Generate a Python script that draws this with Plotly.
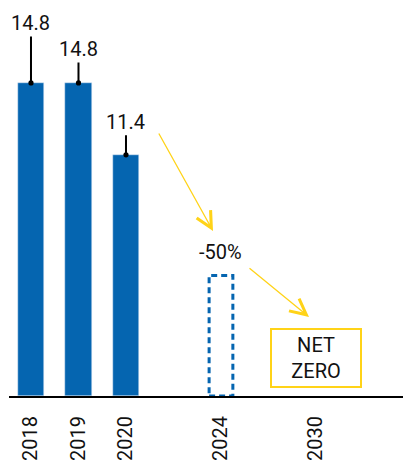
import plotly.graph_objects as go

# ---- data ----
years = ['2018', '2019', '2020']
emissions = [14.8, 14.8, 11.4]
target_year = '2024'
target_value = 5.7
netzero_year = '2030'
target_label = '-50%'
netzero_label = 'NET<br>ZERO'
categories = ['2018', '2019', '2020', ' ', '2024', '  ', '2030']

BLUE = '#0565B0'
YELLOW = '#FFD318'
FONT = 'Roboto'

fig = go.Figure()
fig.add_bar(x=years, y=emissions, width=0.55, marker_color=BLUE,
            hoverinfo='skip', showlegend=False)
# invisible trace to register every category
fig.add_scatter(x=categories, y=[None] * len(categories), mode='markers',
                showlegend=False, hoverinfo='skip')

ti = categories.index(target_year)
fig.add_shape(type='rect', xref='x', yref='y', x0=ti - 0.25, x1=ti + 0.25,
              y0=0, y1=target_value,
              line=dict(color=BLUE, width=3, dash='6px,4px'),
              fillcolor='rgba(0,0,0,0)', layer='above')

label_offsets = [-60, -34, -33]
for yr, v, off in zip(years, emissions, label_offsets):
    fig.add_annotation(x=categories.index(yr), y=v, xref='x', yref='y',
                       text=f'{v}',
                       showarrow=True, arrowhead=6, arrowsize=0.65,
                       arrowwidth=2, arrowcolor='black', ax=0, ay=off,
                       standoff=0,
                       font=dict(family=FONT, size=20, color='#111'))

# yellow arrows
fig.add_annotation(x=3.832, y=7.80, ax=2.674, ay=12.48, xref='x', yref='y',
                   axref='x', ayref='y', text='', showarrow=True,
                   arrowhead=5, arrowsize=2.4, arrowwidth=1.3,
                   arrowcolor=YELLOW)
fig.add_annotation(x=5.853, y=3.735, ax=4.569, ay=6.10, xref='x', yref='y',
                   axref='x', ayref='y', text='', showarrow=True,
                   arrowhead=5, arrowsize=2.4, arrowwidth=1.3,
                   arrowcolor=YELLOW)

fig.add_annotation(x=ti, y=6.81, xref='x', yref='y', text=target_label,
                   showarrow=False,
                   font=dict(family=FONT, size=20, color='#111'))

ni = categories.index(netzero_year)
fig.add_annotation(x=ni, y=1.82, xref='x', yref='y', text=netzero_label,
                   showarrow=False, width=88, height=56, borderpad=0,
                   bordercolor=YELLOW, borderwidth=2, bgcolor='white',
                   font=dict(family=FONT, size=20, color='#111'))

fig.update_xaxes(type='category', categoryorder='array',
                 categoryarray=categories, range=[-0.463, 7.832],
                 tickangle=-90, showline=True, linecolor='black', linewidth=2,
                 showgrid=False, zeroline=False, ticks='',
                 ticklabelstandoff=10,
                 tickfont=dict(family=FONT, size=20, color='#111'))
fig.update_yaxes(range=[0, 18.72], visible=False, showgrid=False)

fig.update_layout(width=403, height=461,
                  margin=dict(l=9, r=0, t=0, b=65),
                  plot_bgcolor='white', paper_bgcolor='white',
                  bargap=0, font=dict(family=FONT))

fig.write_html('out.html', config={'displayModeBar': False},
               post_script="document.body.style.margin='0px';"
                           "document.body.style.padding='0px';")
